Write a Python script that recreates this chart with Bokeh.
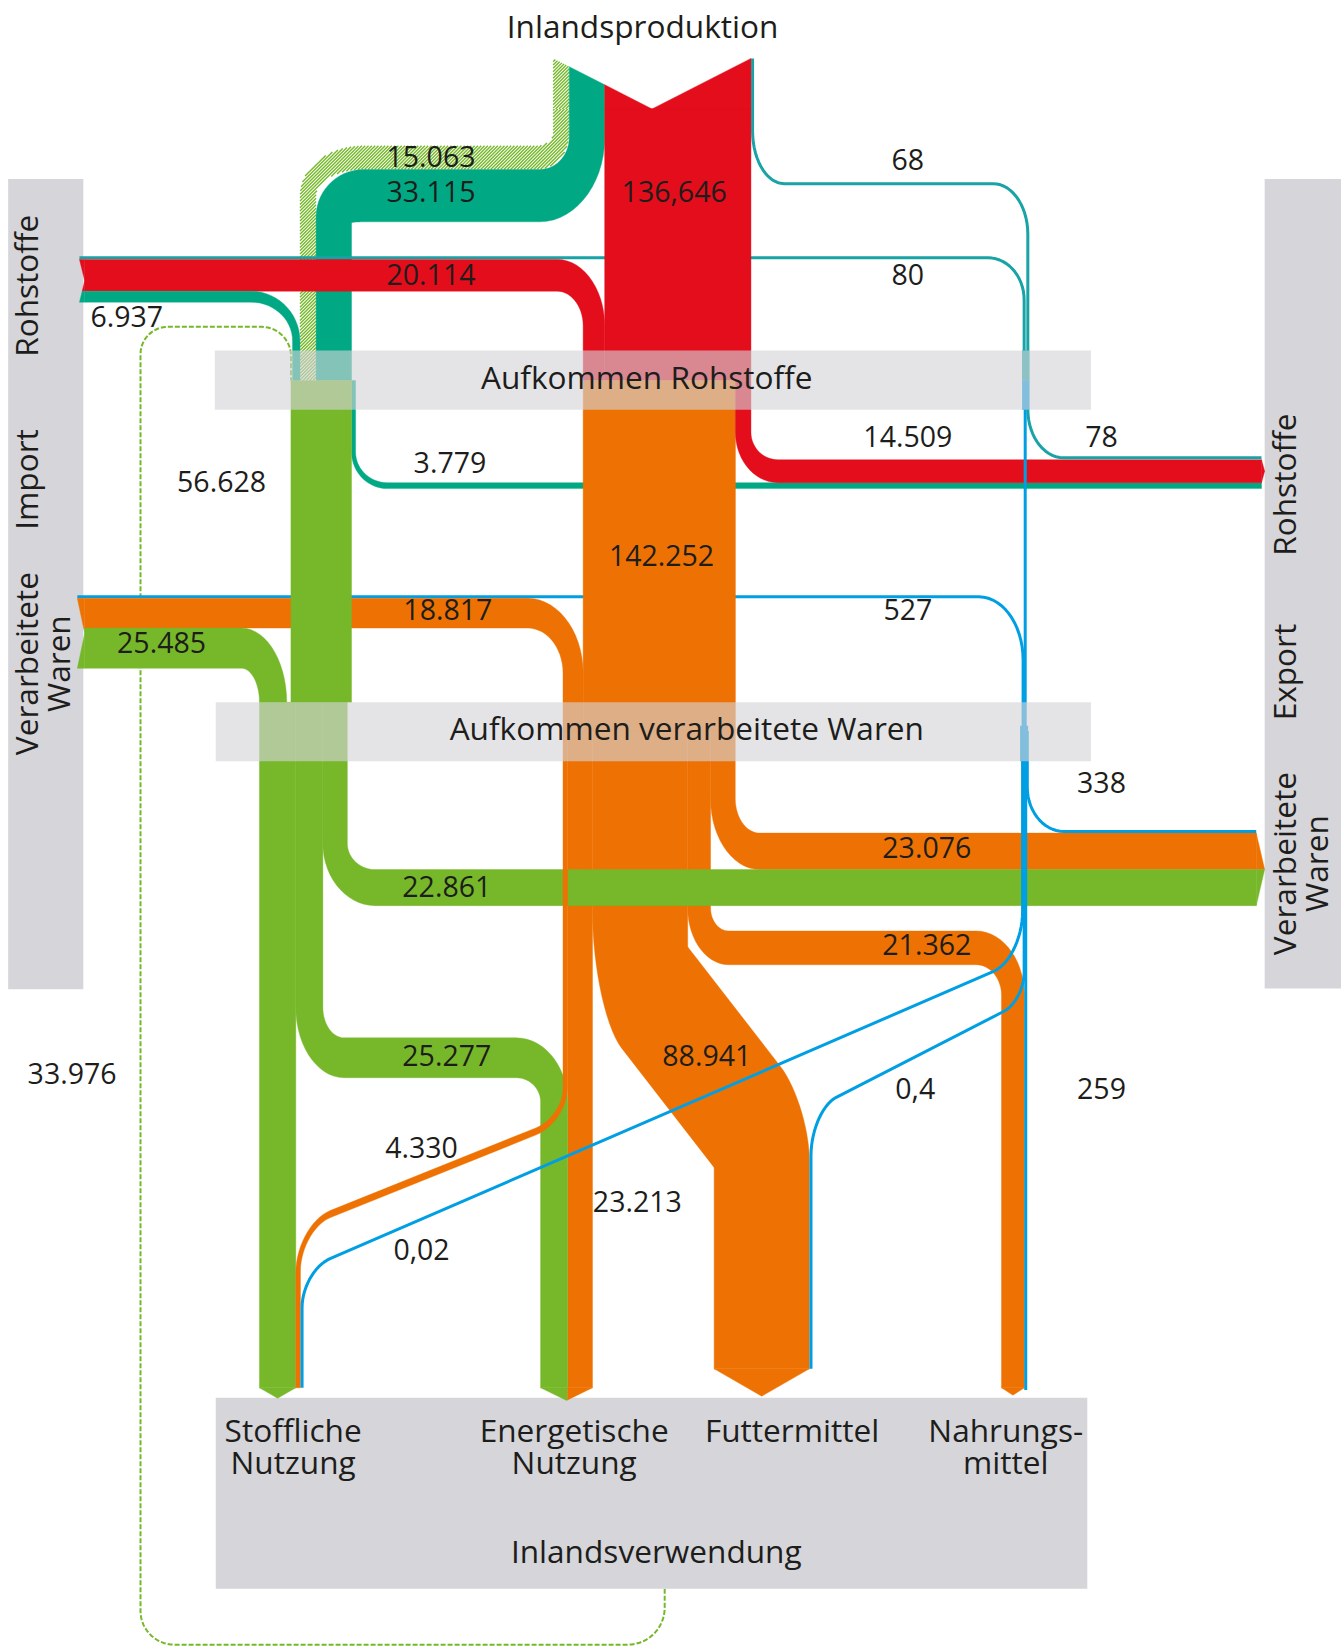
import numpy as np
from bokeh.plotting import figure
from bokeh.models import Range1d
from bokeh.embed import file_html
from bokeh.resources import INLINE
from bokeh.core.properties import value

# ---------------- DATA (flows in 1000 t, thin lines in t) ----------------
inland_labels = ["15.063", "33.115", "136,646", "68"]
inland_values = [15.063, 33.115, 136.646, 68]          # hatched, teal, red, line
import_roh_labels = ["80", "20.114", "6.937"]
import_roh_values = [80, 20.114, 6.937]                # line, red, teal
import_ver_labels = ["527", "18.817", "25.485"]
import_ver_values = [527, 18.817, 25.485]              # line, orange, green
roh_to_ver_labels = ["56.628", "142.252"]
roh_to_ver_values = [56.628, 142.252]                  # green, orange
export_roh_labels = ["78", "14.509", "3.779"]
export_roh_values = [78, 14.509, 3.779]                # line, red, teal
export_ver_labels = ["338", "23.076", "22.861"]
export_ver_values = [338, 23.076, 22.861]              # line, orange, green
use_green_labels = ["33.976", "25.277"]
use_green_values = [33.976, 25.277]                    # Stoffliche, Energetische
use_orange_labels = ["4.330", "23.213", "88.941", "21.362"]
use_orange_values = [4.330, 23.213, 88.941, 21.362]    # Stoffl., Energ., Futter, Nahrung
use_blue_labels = ["0,02", "0,4", "259"]
use_blue_values = [0.02, 0.4, 259]                     # Stoffl., Futter, Nahrung
node_labels = ["Inlandsproduktion", "Aufkommen Rohstoffe", "Aufkommen verarbeitete Waren",
               "Inlandsverwendung"]
use_labels = [["Stoffliche", "Nutzung"], ["Energetische", "Nutzung"], ["Futtermittel"],
              ["Nahrungs-", "mittel"]]

# ---------------- STYLE ----------------
RED = "#e30d1b"; TEAL = "#00a984"; TEAL_L = "#18a3a6"; ORANGE = "#ee7203"
GREEN = "#76b82a"; BLUE = "#009fe3"; GREY = "#d5d5da"; TXT = "#1d1d1b"
FONT = value("Open Sans")
NUM_FS = value("28.5px"); LAB_FS = value("31.6px")
SV, SH = 1.017, 1.5       # px per 1000 t for vertical / horizontal bands
LW = 3                    # px, line for very small flows
HATCH_STEP = 3.15         # stripe spacing (horizontal)
HATCH_W = 1.4             # stripe width, px

K = 1341 / 1274.0
FW, FH = 1341, 1650
p = figure(width=FW, height=FH, output_backend="svg", toolbar_location=None,
           x_range=Range1d(0, FW / K), y_range=Range1d(FH / K, 0),
           x_axis_location=None, y_axis_location=None, min_border=0)
p.grid.visible = False
p.outline_line_color = None
p.background_fill_color = "white"
p.border_fill_color = "white"


def lanes(start, vals, scale):
    out, a = [], start
    for v in vals:
        b = a + v * scale
        out.append((a, b))
        a = b
    return out


def lanes_r(end, vals, scale):
    return lanes(end - sum(vals) * scale, vals, scale)


def mid(ab):
    return 0.5 * (ab[0] + ab[1])


def _bez(P0, C, P3, k=0.55, n=16):
    C1 = P0 + (C - P0) * k
    C2 = P3 + (C - P3) * k
    t = np.linspace(0, 1, n)[:, None]
    return (1 - t) ** 3 * P0 + 3 * (1 - t) ** 2 * t * C1 + 3 * (1 - t) * t ** 2 * C2 + t ** 3 * P3


def offset_path(pts, radii, wv=0.0, wh=0.0, side=0):
    P = np.asarray(pts, float)
    m = len(P) - 1
    d = []
    for i in range(m):
        v = P[i + 1] - P[i]
        d.append(v / np.hypot(*v))
    nrm = [np.array([-di[1], di[0]]) for di in d]
    w = [np.hypot(wv * di[1], wh * di[0]) for di in d]
    off = [side * wi / 2 for wi in w]
    E = [P[0] + nrm[0] * off[0]]
    for k in range(1, m):
        A = P[k] + nrm[k - 1] * off[k - 1]
        B = P[k] + nrm[k] * off[k]
        M = np.column_stack([d[k - 1], -d[k]])
        t, u = np.linalg.solve(M, B - A)
        E.append(A + t * d[k - 1])
    E.append(P[-1] + nrm[-1] * off[-1])
    E = np.array(E)
    out = [E[0][None, :]]
    prev = 0.0
    for k in range(1, m):
        z = d[k - 1][0] * d[k][1] - d[k - 1][1] * d[k][0]
        sg = 0 if side == 0 else (1 if side * z < 0 else -1)
        rin, rout = radii[k - 1]
        cin = max(rin + sg * w[k] / 2, 1.0)
        cout = max(rout + sg * w[k - 1] / 2, 1.0)
        Lin = np.hypot(*(E[k] - E[k - 1]))
        Lout = np.hypot(*(E[k + 1] - E[k]))
        cin = min(cin, max(Lin - prev, 0.5))
        cout = min(cout, Lout * (1.0 if k == m - 1 else 0.5))
        P0 = E[k] - d[k - 1] * cin
        P3 = E[k] + d[k] * cout
        out.append(_bez(P0, E[k], P3))
        prev = cout
    out.append(E[-1][None, :])
    return np.vstack(out)


def hatch_poly(xs, ys):
    """white fill + '/' stripes clipped to the polygon"""
    X = np.asarray(xs, float); Y = np.asarray(ys, float)
    p.patch(X, Y, fill_color="white", line_color=None)
    X2, Y2 = np.roll(X, -1), np.roll(Y, -1)
    s1, s2 = X + Y, X2 + Y2
    segx, segy = [], []
    for c in np.arange(np.floor(s1.min()), s1.max(), HATCH_STEP):
        hit = (s1 - c) * (s2 - c) < 0
        if not hit.any():
            continue
        t = (c - s1[hit]) / (s2[hit] - s1[hit])
        px = X[hit] + t * (X2[hit] - X[hit])
        py = Y[hit] + t * (Y2[hit] - Y[hit])
        o = np.argsort(px)
        px, py = px[o], py[o]
        for i in range(0, len(px) - 1, 2):
            segx.append([px[i], px[i + 1]]); segy.append([py[i], py[i + 1]])
    p.multi_line(segx, segy, line_color=GREEN, line_width=HATCH_W)


def ribbon(pts, radii, v, color, hatch=False):
    wv, wh = v * SV, v * SH
    L = offset_path(pts, radii, wv, wh, -1)
    R = offset_path(pts, radii, wv, wh, +1)
    poly = np.vstack([L, R[::-1]])
    if hatch:
        hatch_poly(poly[:, 0], poly[:, 1])
    else:
        p.patch(poly[:, 0], poly[:, 1], fill_color=color, line_color=color, line_width=0.4)


def line(pts, radii, color):
    L = offset_path(pts, radii)
    p.line(L[:, 0], L[:, 1], line_color=color, line_width=LW)


def cap(orient, base, depth, lo, hi, a, b, concave, color, hatch=False):
    mu = 0.5 * (lo + hi)
    half = 0.5 * (hi - lo)

    def f(u):
        t = 1 - abs(u - mu) / half
        return base - depth * (1 - t) if concave else base + depth * t
    us = [a] + ([mu] if a < mu < b else []) + [b]
    pts = [(a, base)] + [(u, f(u)) for u in us] + [(b, base)]
    if orient == "v":
        xs, ys = [q[0] for q in pts], [q[1] for q in pts]
    else:
        xs, ys = [q[1] for q in pts], [q[0] for q in pts]
    if hatch:
        hatch_poly(xs, ys)
    else:
        p.patch(xs, ys, fill_color=color, line_color=color, line_width=0.4)


# ---------------- LAYOUT (positions only) ----------------
RB = (332.5, 388.8); VB = (666.7, 722.7)           # Aufkommen bands
RM, VM = 361.0, 694.0                               # band middles
top_v = lanes(525.0, inland_values[:3], SV)         # hatched, teal, red (vertical)
top_h = lanes(138.0, inland_values[:2], SH)         # hatched, teal (horizontal)
roh_v = lanes_r(333.5, [import_roh_values[2], inland_values[0], inland_values[1]], SV)
imp_r_h = lanes(246.0, import_roh_values[1:], SH)   # red, teal
red_imp_v = (top_v[2][0] - import_roh_values[1] * SV, top_v[2][0])
roh_out = lanes(red_imp_v[0], [roh_to_ver_values[1], export_roh_values[1]], SV)
green_dom_v = (333.5 - roh_to_ver_values[0] * SV, 333.5)
teal_exp_v = (333.5, 333.5 + export_roh_values[2] * SV)
exp_r_h = lanes(436.3, export_roh_values[1:], SH)   # red, teal
imp_v_h = lanes(568.0, import_ver_values[1:], SH)   # orange, green
or_imp_v = (roh_out[0][0] - import_ver_values[1] * SV, roh_out[0][0])
gr_imp_v = (246.0, 246.0 + import_ver_values[2] * SV)
or_out = lanes(or_imp_v[0], use_orange_values + [export_ver_values[1]], SV)
gr_out = lanes(246.0, use_green_values + [export_ver_values[2]], SV)
exp_v_h = lanes(791.0, export_ver_values[1:], SH)   # orange, green
gr_ener_h = (985.5, 985.5 + use_green_values[1] * SH)
gr_ener_b = (or_out[1][0] - use_green_values[1] * SV, or_out[1][0])
or_stoff_b = (gr_out[0][1], gr_out[0][1] + use_orange_values[0] * SV)
or_fut_b = (678.0, 678.0 + use_orange_values[2] * SV)
or_nahr_h = (884.0, 884.0 + use_orange_values[3] * SH)
or_nahr_b = (972.7 - use_orange_values[3] * SV, 972.7)
GV = VB[0]          # green node: inputs end / outputs start at the top of the band


def dy(x, x0, y0, s):
    return y0 + (x - x0) * s


# ---------------- BACKGROUND ----------------
line_pts = [(631, 1509), (631, 1562), (133, 1562), (133, 310), (276, 310), (276, RM)]
Ld = offset_path(line_pts, [(35, 35), (32, 32), (26, 26), (28, 28)])
p.line(Ld[:, 0], Ld[:, 1], line_color=GREEN, line_width=2, line_dash="5 2")

p.quad(left=[7.3, 1201, 204.5], right=[78.7, 1290, 1032.5], top=[169.5, 169.5, 1327.5],
       bottom=[939.4, 938.6, 1509], fill_color=GREY, line_color=None)

# ---------------- FLOWS ----------------
line([(714.5, 55), (714.5, 174), (976, 174), (976, RM)], [(50, 30), (33, 48)], TEAL_L)
line([(73, 566.5), (971.5, 566.5), (971.5, VM)], [(42, 60)], BLUE)
ribbon([(mid(teal_exp_v), RM), (mid(teal_exp_v), mid(exp_r_h[1])), (1198, mid(exp_r_h[1]))],
       [(32, 32)], export_roh_values[2], TEAL)

# Inlandsproduktion
TOPY, VDEP = 103.0, 48.0
ribbon([(mid(top_v[0]), TOPY), (mid(top_v[0]), mid(top_h[0])), (mid(roh_v[1]), mid(top_h[0])),
        (mid(roh_v[1]), RM)], [(23, 23), (52, 36)], inland_values[0], None, hatch=True)
ribbon([(mid(top_v[1]), TOPY), (mid(top_v[1]), mid(top_h[1])), (mid(roh_v[2]), mid(top_h[1])),
        (mid(roh_v[2]), RM)], [(55, 45), (28, 20)], inland_values[1], TEAL)
line([(75, 244.5), (972.5, 244.5), (972.5, RM)], [(34, 40)], TEAL_L)
ribbon([(mid(top_v[2]), TOPY), (mid(top_v[2]), RM)], [], inland_values[2], RED)
for (a, b), col, h in zip(top_v, [None, TEAL, RED], [True, False, False]):
    cap("v", TOPY, VDEP, top_v[0][0], top_v[2][1], a, b, True, col, hatch=h)

# Import Rohstoffe
ribbon([(80, mid(imp_r_h[0])), (mid(red_imp_v), mid(imp_r_h[0])), (mid(red_imp_v), RM)],
       [(35, 48)], import_roh_values[1], RED)
ribbon([(80, mid(imp_r_h[1])), (mid(roh_v[0]), mid(imp_r_h[1])), (mid(roh_v[0]), RM)],
       [(43, 42)], import_roh_values[2], TEAL)
for (a, b), col in zip(imp_r_h, [RED, TEAL]):
    cap("h", 80, 5, imp_r_h[0][0], imp_r_h[1][1], a, b, True, col)

# Import verarbeitete Waren
ribbon([(80, mid(imp_v_h[0])), (mid(or_imp_v), mid(imp_v_h[0])), (mid(or_imp_v), VM)],
       [(43, 57)], import_ver_values[1], ORANGE)
ribbon([(80, mid(imp_v_h[1])), (mid(gr_imp_v), mid(imp_v_h[1])), (mid(gr_imp_v), GV)],
       [(30, 54)], import_ver_values[2], GREEN)
for (a, b), col in zip(imp_v_h, [ORANGE, GREEN]):
    cap("h", 80, 7, imp_v_h[0][0], imp_v_h[1][1], a, b, True, col)

# Aufkommen Rohstoffe -> verarbeitete Waren / Export
ribbon([(mid(green_dom_v), RM), (mid(green_dom_v), GV)], [], roh_to_ver_values[0], GREEN)
ribbon([(mid(roh_out[0]), RM), (mid(roh_out[0]), VM)], [], roh_to_ver_values[1], ORANGE)
ribbon([(mid(roh_out[1]), RM), (mid(roh_out[1]), mid(exp_r_h[0])), (1198, mid(exp_r_h[0]))],
       [(37, 33)], export_roh_values[1], RED)
cap("h", 1198, 3, exp_r_h[0][0], exp_r_h[0][1], exp_r_h[0][0], exp_r_h[0][1], False, RED)

# Aufkommen verarbeitete Waren -> orange uses
ribbon([(mid(or_out[4]), VM), (mid(or_out[4]), mid(exp_v_h[0])), (1193, mid(exp_v_h[0]))],
       [(50, 35)], export_ver_values[1], ORANGE)
ribbon([(mid(or_out[3]), VM), (mid(or_out[3]), mid(or_nahr_h)), (mid(or_nahr_b), mid(or_nahr_h)),
        (mid(or_nahr_b), 1318)], [(38, 28), (35, 45)], use_orange_values[3], ORANGE)
fx0, fy0, fs = 622.5, 948.5, 1.29
ribbon([(mid(or_out[2]), VM), (mid(or_out[2]), dy(mid(or_out[2]), fx0, fy0, fs)),
        (mid(or_fut_b), dy(mid(or_fut_b), fx0, fy0, fs)), (mid(or_fut_b), 1300)],
       [(40, 0), (0, 0)], use_orange_values[2], ORANGE)
ribbon([(mid(or_out[1]), VM), (mid(or_out[1]), 1318)], [], use_orange_values[1], ORANGE)

# green uses
ribbon([(mid(gr_out[2]), GV), (mid(gr_out[2]), mid(exp_v_h[1])), (1193, mid(exp_v_h[1]))],
       [(42, 38)], export_ver_values[2], GREEN)
for (a, b), col in zip(exp_v_h, [ORANGE, GREEN]):
    cap("h", 1193, 8, exp_v_h[0][0], exp_v_h[1][1], a, b, False, col)
ribbon([(mid(gr_out[0]), GV), (mid(gr_out[0]), 1318)], [], use_green_values[0], GREEN)
ribbon([(mid(gr_out[1]), GV), (mid(gr_out[1]), mid(gr_ener_h)), (mid(gr_ener_b), mid(gr_ener_h)),
        (mid(gr_ener_b), 1318)], [(48, 33), (36, 42)], use_green_values[1], GREEN)
sx0, sy0, ss = 509.0, 1074.3, -0.402
ribbon([(mid(or_out[0]), VM), (mid(or_out[0]), dy(mid(or_out[0]), sx0, sy0, ss)),
        (mid(or_stoff_b), dy(mid(or_stoff_b), sx0, sy0, ss)), (mid(or_stoff_b), 1318)],
       [(30, 30), (33, 43)], use_orange_values[0], ORANGE)

# bottom arrow tips
cap("v", 1318, 10, gr_out[0][0], gr_out[0][1], gr_out[0][0], gr_out[0][1], False, GREEN)
cap("v", 1318, 12, gr_ener_b[0], or_out[1][1], gr_ener_b[0], gr_ener_b[1], False, GREEN)
cap("v", 1318, 12, gr_ener_b[0], or_out[1][1], or_out[1][0], or_out[1][1], False, ORANGE)
cap("v", 1300, 26, or_fut_b[0], or_fut_b[1], or_fut_b[0], or_fut_b[1], False, ORANGE)
cap("v", 1318, 7, or_nahr_b[0], or_nahr_b[1], or_nahr_b[0], or_nahr_b[1], False, ORANGE)

# thin lines on top
line([(976, RM), (976, 434.5), (1198, 434.5)], [(46, 34)], TEAL_L)
line([(973.5, RM), (973.5, VM)], [], BLUE)
line([(975.5, VM), (975.5, 789.5), (1193, 789.5)], [(42, 35)], BLUE)
line([(974, VM), (974, 1320)], [], BLUE)
bx0, by0, bs = 952.0, 961.0, -0.513
line([(972.5, VM), (972.5, dy(972.5, bx0, by0, bs)), (770, dy(770, bx0, by0, bs)), (770, 1300)],
     [(27, 22), (27, 43)], BLUE)
cx0, cy0, cs = 942.0, 923.0, -0.433
line([(971, VM), (971, dy(971, cx0, cy0, cs)), (286.5, dy(286.5, cx0, cy0, cs)), (286.5, 1318)],
     [(45, 30), (29, 35)], BLUE)

# node boxes of thin lines inside the bands
p.quad(left=[970.5, 970.5, 968.6], right=[977.5, 977.5, 976.3], top=[RB[0], RM, 689],
       bottom=[RM, RB[1], VB[1]], fill_color=[TEAL_L, BLUE, BLUE], line_color=None)

# translucent bands
p.quad(left=[203.6, 204.5], right=[1036, 1036], top=[RB[0], VB[0]], bottom=[RB[1], VB[1]],
       fill_color="#d3d4d9", fill_alpha=0.62, line_color=None)

# ---------------- TEXT ----------------
num_x = [409, 409, 640, 862, 862, 409, 120, 1046, 862, 427, 210, 628, 862, 425, 153,
         1046, 880, 424, 68, 424, 400, 605, 671, 880, 400, 869, 1046]
num_y = [148, 181, 181, 151, 260, 260, 300, 414, 414, 439, 457, 527, 579, 579, 610,
         743, 805, 842, 1019, 1002, 1090, 1141, 1002, 897, 1187, 1034, 1034]
num_t = (inland_labels + import_roh_labels + export_roh_labels + roh_to_ver_labels
         + import_ver_labels + export_ver_labels + use_green_labels + use_orange_labels
         + use_blue_labels)
p.text(x=num_x, y=num_y, text=num_t, text_font=FONT, text_font_size=NUM_FS,
       text_color=TXT, text_align="center", text_baseline="middle")

lab_x = [610, 614, 652, 623]
lab_y = [24, 357, 691, 1473]
p.text(x=lab_x, y=lab_y, text=node_labels, text_font=FONT, text_font_size=LAB_FS,
       text_color=TXT, text_align="center", text_baseline="middle")

ux = [278, 545, 752, 955]
bx, by, bt = [], [], []
for x, lines in zip(ux, use_labels):
    for i, t in enumerate(lines):
        bx.append(x); by.append(1358 + 30 * i); bt.append(t)
p.text(x=bx, y=by, text=bt, text_font=FONT, text_font_size=LAB_FS,
       text_color=TXT, text_align="center", text_baseline="middle")

side_t = ["Rohstoffe", "Import", "Verarbeitete", "Waren",
          "Rohstoffe", "Export", "Verarbeitete", "Waren"]
side_x = [24, 24, 24, 54, 1219, 1219, 1219, 1249]
side_y = [271, 455, 630, 630, 460, 638, 820, 820]
p.text(x=side_x, y=side_y, text=side_t, angle=np.pi / 2, text_font=FONT,
       text_font_size=LAB_FS, text_color=TXT, text_align="center", text_baseline="middle")

open("out.html", "w").write(file_html(p, INLINE))
